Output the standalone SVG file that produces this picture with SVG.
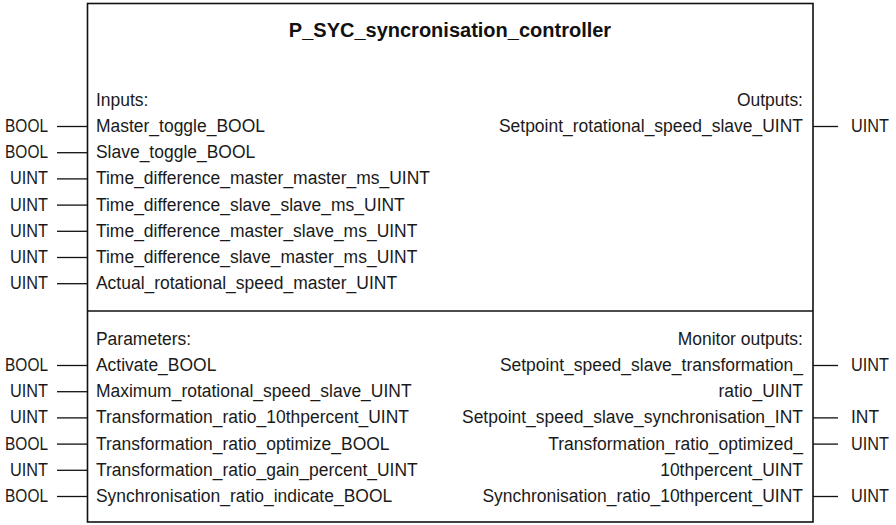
<svg xmlns="http://www.w3.org/2000/svg" width="896" height="525" viewBox="0 0 896 525">
  <style>
    .frame { fill: #ffffff; stroke: #111111; stroke-width: 1.6; }
    .rule { stroke: #111111; stroke-width: 1.4; }
    .wire { stroke: #111111; stroke-width: 1.3; fill: none; }
    .title { font-family: "Liberation Sans", Arial, sans-serif; font-weight: bold; font-size: 20px; fill: #111111; text-anchor: middle; }
    .pin { font-family: "Liberation Sans", Arial, sans-serif; font-size: 19px; fill: #1a1a1a; }
    .end { text-anchor: end; }
  </style>

  <!-- function block body; pin texts use a narrowed face (x scaled by 0.92) -->
  <g id="fb-block">
    <rect class="frame" x="87.5" y="3.5" width="725.5" height="518.5"/>
    <line class="rule" x1="87.5" y1="311" x2="813" y2="311"/>
    <text class="title" x="450" y="37">P_SYC_syncronisation_controller</text>

    <!-- inputs section (x = 96 / 0.92) -->
    <g id="inputs" class="pin" transform="scale(0.92,1)">
      <text x="104.3" y="106">Inputs:</text>
      <text x="104.3" y="132">Master_toggle_BOOL</text>
      <text x="104.3" y="158.2">Slave_toggle_BOOL</text>
      <text x="104.3" y="184.4">Time_difference_master_master_ms_UINT</text>
      <text x="104.3" y="210.6">Time_difference_slave_slave_ms_UINT</text>
      <text x="104.3" y="236.8">Time_difference_master_slave_ms_UINT</text>
      <text x="104.3" y="263">Time_difference_slave_master_ms_UINT</text>
      <text x="104.3" y="289.2">Actual_rotational_speed_master_UINT</text>
    </g>

    <!-- outputs section (x = 803 / 0.92) -->
    <g id="outputs" class="pin end" transform="scale(0.92,1)">
      <text x="872.8" y="106">Outputs:</text>
      <text x="872.8" y="132">Setpoint_rotational_speed_slave_UINT</text>
    </g>

    <!-- parameters section -->
    <g id="parameters" class="pin" transform="scale(0.92,1)">
      <text x="104.3" y="345">Parameters:</text>
      <text x="104.3" y="371">Activate_BOOL</text>
      <text x="104.3" y="397.2">Maximum_rotational_speed_slave_UINT</text>
      <text x="104.3" y="423.4">Transformation_ratio_10thpercent_UINT</text>
      <text x="104.3" y="449.6">Transformation_ratio_optimize_BOOL</text>
      <text x="104.3" y="475.8">Transformation_ratio_gain_percent_UINT</text>
      <text x="104.3" y="502">Synchronisation_ratio_indicate_BOOL</text>
    </g>

    <!-- monitor outputs section -->
    <g id="monitor-outputs" class="pin end" transform="scale(0.92,1)">
      <text x="872.8" y="345">Monitor outputs:</text>
      <text x="872.8" y="371">Setpoint_speed_slave_transformation_</text>
      <text x="872.8" y="397.2">ratio_UINT</text>
      <text x="872.8" y="423.4">Setpoint_speed_slave_synchronisation_INT</text>
      <text x="872.8" y="449.6">Transformation_ratio_optimized_</text>
      <text x="872.8" y="475.8">10thpercent_UINT</text>
      <text x="872.8" y="502">Synchronisation_ratio_10thpercent_UINT</text>
    </g>
  </g>

  <!-- pin wires -->
  <g id="connectors" class="wire">
    <line x1="57" y1="126.5" x2="87.5" y2="126.5"/>
    <line x1="57" y1="152.7" x2="87.5" y2="152.7"/>
    <line x1="57" y1="178.9" x2="87.5" y2="178.9"/>
    <line x1="57" y1="205.1" x2="87.5" y2="205.1"/>
    <line x1="57" y1="231.3" x2="87.5" y2="231.3"/>
    <line x1="57" y1="257.5" x2="87.5" y2="257.5"/>
    <line x1="57" y1="283.7" x2="87.5" y2="283.7"/>

    <line x1="57" y1="365.5" x2="87.5" y2="365.5"/>
    <line x1="57" y1="391.7" x2="87.5" y2="391.7"/>
    <line x1="57" y1="417.9" x2="87.5" y2="417.9"/>
    <line x1="57" y1="444.1" x2="87.5" y2="444.1"/>
    <line x1="57" y1="470.3" x2="87.5" y2="470.3"/>
    <line x1="57" y1="496.5" x2="87.5" y2="496.5"/>

    <line x1="813" y1="126.5" x2="838" y2="126.5"/>
    <line x1="813" y1="365.5" x2="838" y2="365.5"/>
    <line x1="813" y1="417.9" x2="838" y2="417.9"/>
    <line x1="813" y1="444.1" x2="838" y2="444.1"/>
    <line x1="813" y1="496.5" x2="838" y2="496.5"/>
  </g>

  <!-- data types at the wire ends (x = 48 / 0.92 and 851 / 0.92) -->
  <g id="input-types" class="pin end" transform="scale(0.92,1)">
    <text x="52.2" y="132" textLength="46.7" lengthAdjust="spacingAndGlyphs">BOOL</text>
    <text x="52.2" y="158.2" textLength="46.7" lengthAdjust="spacingAndGlyphs">BOOL</text>
    <text x="52.2" y="184.4" textLength="41.3" lengthAdjust="spacingAndGlyphs">UINT</text>
    <text x="52.2" y="210.6" textLength="41.3" lengthAdjust="spacingAndGlyphs">UINT</text>
    <text x="52.2" y="236.8" textLength="41.3" lengthAdjust="spacingAndGlyphs">UINT</text>
    <text x="52.2" y="263" textLength="41.3" lengthAdjust="spacingAndGlyphs">UINT</text>
    <text x="52.2" y="289.2" textLength="41.3" lengthAdjust="spacingAndGlyphs">UINT</text>
    <text x="52.2" y="371" textLength="46.7" lengthAdjust="spacingAndGlyphs">BOOL</text>
    <text x="52.2" y="397.2" textLength="41.3" lengthAdjust="spacingAndGlyphs">UINT</text>
    <text x="52.2" y="423.4" textLength="41.3" lengthAdjust="spacingAndGlyphs">UINT</text>
    <text x="52.2" y="449.6" textLength="46.7" lengthAdjust="spacingAndGlyphs">BOOL</text>
    <text x="52.2" y="475.8" textLength="41.3" lengthAdjust="spacingAndGlyphs">UINT</text>
    <text x="52.2" y="502" textLength="46.7" lengthAdjust="spacingAndGlyphs">BOOL</text>
  </g>
  <g id="output-types" class="pin" transform="scale(0.92,1)">
    <text x="925" y="132" textLength="41.3" lengthAdjust="spacingAndGlyphs">UINT</text>
    <text x="925" y="371" textLength="41.3" lengthAdjust="spacingAndGlyphs">UINT</text>
    <text x="925" y="423.4">INT</text>
    <text x="925" y="449.6" textLength="41.3" lengthAdjust="spacingAndGlyphs">UINT</text>
    <text x="925" y="502" textLength="41.3" lengthAdjust="spacingAndGlyphs">UINT</text>
  </g>
</svg>
